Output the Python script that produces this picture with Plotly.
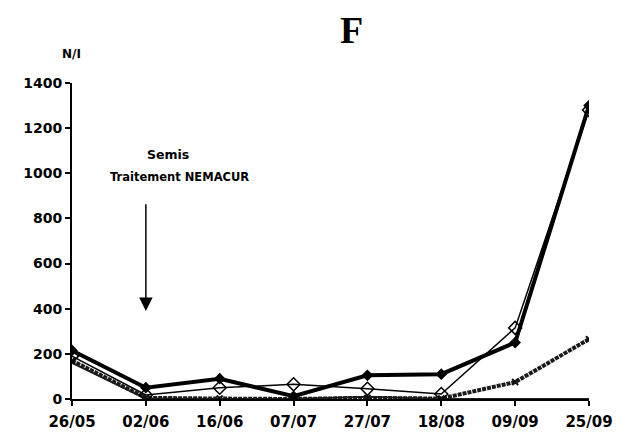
import plotly.graph_objects as go

dates = ["26/05", "02/06", "16/06", "07/07", "27/07", "18/08", "09/09", "25/09"]
serie_a = [215, 50, 90, 12, 105, 110, 250, 1300]
serie_b = [190, 18, 50, 65, 45, 22, 315, 1280]
serie_c = [170, 5, 2, 0, 5, 2, 75, 265]
serie_d = [160, 2, 0, 0, 10, 0, 0, 0]
y_ticks = [0, 200, 400, 600, 800, 1000, 1200, 1400]

x = list(range(len(dates)))
fig = go.Figure()

fig.add_trace(go.Scatter(
    x=x, y=serie_d, mode="lines",
    line=dict(color="#222", width=2),
))
fig.add_trace(go.Scatter(
    x=x, y=serie_c, mode="lines+markers",
    line=dict(color="#1a1a1a", width=4, dash="4px,1px"),
    marker=dict(symbol="x-thin", size=6, line=dict(color="#111", width=2)),
))
fig.add_trace(go.Scatter(
    x=x, y=serie_b, mode="lines+markers",
    line=dict(color="black", width=1.5),
    marker=dict(symbol="diamond-open", size=10, color="black", line=dict(width=1.5)),
))
fig.add_trace(go.Scatter(
    x=x, y=serie_a, mode="lines+markers",
    line=dict(color="black", width=4),
    marker=dict(symbol="diamond", size=9, color="black"),
))

fig.update_layout(
    width=627, height=436,
    margin=dict(l=72, r=38, t=83, b=37),
    paper_bgcolor="white", plot_bgcolor="white",
    showlegend=False,
    font=dict(family="DejaVu Sans", size=13, color="black"),
    xaxis=dict(
        range=[0, 7], tickvals=x, ticktext=dates,
        showgrid=False, zeroline=False, automargin=False,
        showline=True, linecolor="black", linewidth=2,
        ticks="outside", ticklen=5, tickwidth=2, tickcolor="black",
        ticklabelstandoff=3,
        tickfont=dict(family="DejaVu Sans", size=15, color="black", weight="bold"),
    ),
    yaxis=dict(
        range=[0, 1400], tickvals=y_ticks,
        showgrid=False, zeroline=False, automargin=False,
        showline=True, linecolor="black", linewidth=2,
        ticks="outside", ticklen=5, tickwidth=2, tickcolor="black",
        tickfont=dict(family="DejaVu Sans", size=14, color="black", weight="bold"),
    ),
)

fig.add_annotation(text="<b>F</b>", xref="paper", yref="paper", x=0.54, y=1.0,
                   yshift=76, showarrow=False,
                   font=dict(family="Liberation Serif", size=38, color="black"))
fig.add_annotation(text="<b>N/I</b>", xref="paper", yref="paper", x=0.0, y=1.0,
                   yshift=38, xshift=-12, showarrow=False,
                   font=dict(family="DejaVu Sans", size=12, color="black"))
fig.add_annotation(text="<b>Semis</b>", xref="x", yref="y", x=1.3, y=1085,
                   showarrow=False, font=dict(family="DejaVu Sans", size=12.5))
fig.add_annotation(text="<b>Traitement NEMACUR</b>", xref="x", yref="y", x=1.45, y=985,
                   showarrow=False, font=dict(family="DejaVu Sans", size=11.5))
fig.add_annotation(x=1, y=390, ax=1, ay=870, xref="x", yref="y", axref="x", ayref="y",
                   text="", showarrow=True, arrowhead=2, arrowsize=1.8, arrowwidth=1.5,
                   arrowcolor="black")

fig.write_html("out.html")
